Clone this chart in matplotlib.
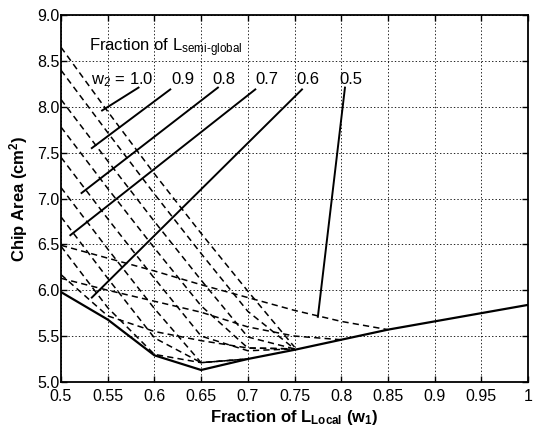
import matplotlib
matplotlib.use("Agg")
import matplotlib.pyplot as plt

plt.rcParams['font.family'] = ['Liberation Sans', 'DejaVu Sans']
plt.rcParams['mathtext.fontset'] = 'custom'
plt.rcParams['mathtext.rm'] = 'Liberation Sans'
plt.rcParams['mathtext.it'] = 'Liberation Sans'
plt.rcParams['mathtext.bf'] = 'Liberation Sans:bold'
plt.rcParams['lines.scale_dashes'] = False

# fraction of local wires (w1)
w1 = [0.5, 0.55, 0.6, 0.65, 0.7, 0.75, 0.8, 0.85, 0.9, 0.95, 1.0]

# best chip area (solid curve)
area_opt = [5.98, 5.68, 5.29, 5.13, 5.25, 5.35, 5.46, 5.57, 5.66, 5.75, 5.84]

# one dashed curve per w2, starting at w1 = 0.5, until it joins the solid curve
w2_values = [1.0, 0.95, 0.9, 0.85, 0.8, 0.75, 0.7, 0.65, 0.6, 0.55, 0.5]
area_w2 = [
    [8.65, 7.95, 7.27, 6.62, 5.99, 5.38],
    [8.40, 7.72, 7.05, 6.40, 5.77, 5.36],
    [8.08, 7.41, 6.75, 6.11, 5.49, 5.36],
    [7.78, 7.11, 6.46, 5.83, 5.37, 5.36],
    [7.45, 6.78, 6.13, 5.50, 5.34, 5.36],
    [7.12, 6.45, 5.80, 5.21, 5.25],
    [6.80, 6.13, 5.48, 5.21, 5.25],
    [6.48, 5.81, 5.30, 5.21, 5.25],
    [6.17, 5.72, 5.55, 5.45, 5.37, 5.36],
    [6.13, 6.00, 5.88, 5.76, 5.60, 5.50, 5.46],
    [6.49, 6.35, 6.21, 6.06, 5.92, 5.78, 5.66, 5.57],
]

# labels and the point each leader line ends on
label_text = ['w$_2$ = 1.0', '0.9', '0.8', '0.7', '0.6', '0.5']
label_x = [0.532, 0.618, 0.662, 0.708, 0.752, 0.798]
leader_start = [(0.583, 8.21), (0.617, 8.19), (0.668, 8.21),
                (0.708, 8.19), (0.758, 8.19), (0.804, 8.21)]
leader_end = [(0.544, 7.96), (0.533, 7.55), (0.522, 7.06),
              (0.510, 6.60), (0.533, 5.92), (0.775, 5.71)]

xticks = [0.5, 0.55, 0.6, 0.65, 0.7, 0.75, 0.8, 0.85, 0.9, 0.95, 1.0]
xtick_labels = ['0.5', '0.55', '0.6', '0.65', '0.7', '0.75', '0.8', '0.85', '0.9', '0.95', '1']
yticks = [5.0, 5.5, 6.0, 6.5, 7.0, 7.5, 8.0, 8.5, 9.0]
ytick_labels = ['5.0', '5.5', '6.0', '6.5', '7.0', '7.5', '8.0', '8.5', '9.0']

fig = plt.figure(figsize=(5.35, 4.33), dpi=100)
ax = fig.add_axes([0.114, 0.118, 0.873, 0.847])

for vals in area_w2:
    ax.plot(w1[:len(vals)], vals, color='black', lw=1.1, dashes=(4.5, 3))

ax.plot(w1, area_opt, color='black', lw=1.6)

# leader lines and labels
for txt, lx, (x0, y0), (x1, y1) in zip(label_text, label_x, leader_start, leader_end):
    ax.plot([x0, x1], [y0, y1], color='black', lw=1.4)
    ax.text(lx, 8.30, txt, fontsize=12, ha='left', va='center')

ax.text(0.530, 8.65, 'Fraction of L$_{\\mathrm{semi\\text{-}global}}$', fontsize=12,
        ha='left', va='center')

ax.set_xlim(0.5, 1.0)
ax.set_ylim(5.0, 9.0)
ax.set_xticks(xticks)
ax.set_xticklabels(xtick_labels, fontsize=11.5)
ax.set_yticks(yticks)
ax.set_yticklabels(ytick_labels, fontsize=11.5)
ax.tick_params(axis='x', direction='in', top=True, length=4, width=1, pad=5)
ax.tick_params(axis='y', direction='in', right=True, length=4, width=1, pad=1)
ax.grid(True, color='black', linestyle=(0, (1, 1.5)), lw=0.6)
for s in ax.spines.values():
    s.set_linewidth(1.3)

ax.set_xlabel(r'$\mathbf{Fraction\ of\ L_{Local}\ (w_1)}$', fontsize=12, labelpad=3)
ax.set_ylabel(r'$\mathbf{Chip\ Area\ (cm^2)}$', fontsize=12, labelpad=5)

fig.savefig('out.png', dpi=100)
